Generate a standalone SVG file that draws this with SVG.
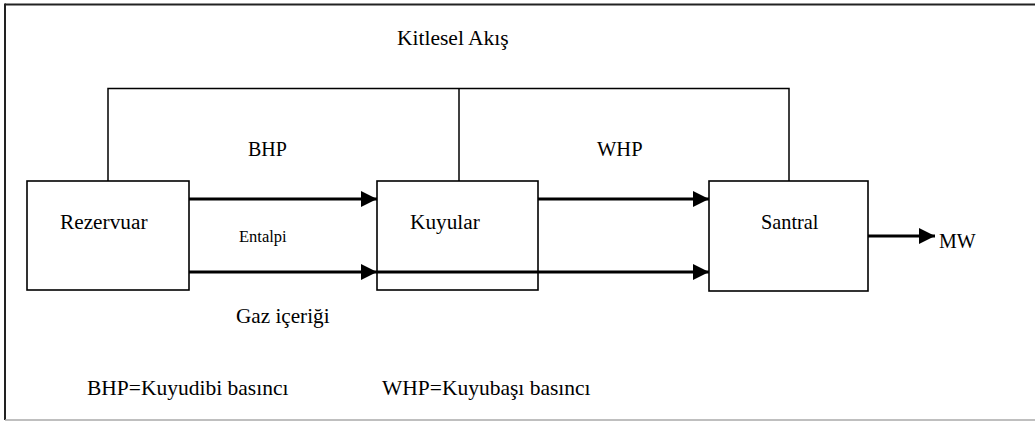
<svg xmlns="http://www.w3.org/2000/svg" width="1035" height="421" viewBox="0 0 1035 421">
<style>
.t{font-family:'Liberation Serif','Times New Roman',Times,serif;fill:#000}
.box{fill:#fff;stroke:#000;stroke-width:1.6}
.thin{fill:none;stroke:#000;stroke-width:1.5}
.arr{fill:none;stroke:#000;stroke-width:3}
</style>
<defs>
<marker id="ah" viewBox="0 0 16 16" refX="16" refY="8" markerWidth="16" markerHeight="16" markerUnits="userSpaceOnUse" orient="auto">
<path d="M0,0 L16,8 L0,16 Z" fill="#000"/>
</marker>
</defs>
<rect width="1035" height="421" fill="#fff"/>
<g id="frame">
<line x1="5" y1="4.5" x2="1035" y2="4.5" stroke="#222" stroke-width="2"/>
<line x1="5" y1="3.5" x2="5" y2="420" stroke="#222" stroke-width="2"/>
<line x1="5" y1="420" x2="1035" y2="420" stroke="#aaa" stroke-width="1.5"/>
</g>
<g id="connectors">
<polyline class="thin" points="108,181 108,88.5 789,88.5 789,181"/>
<line class="thin" x1="459" y1="88.5" x2="459" y2="181"/>
<line class="arr" x1="189" y1="199" x2="377" y2="199" marker-end="url(#ah)"/>
<line class="arr" x1="538" y1="199" x2="709" y2="199" marker-end="url(#ah)"/>
<line class="arr" x1="189" y1="272" x2="377" y2="272" marker-end="url(#ah)"/>
<line class="arr" x1="868" y1="236" x2="935" y2="236" marker-end="url(#ah)"/>
</g>
<g id="rezervuar">
<rect class="box" x="27" y="181" width="162" height="109"/>
<text class="t" x="60" y="229" font-size="21.3">Rezervuar</text>
</g>
<g id="kuyular">
<rect class="box" x="377" y="181" width="161" height="109"/>
<text class="t" x="410" y="229" font-size="21.3">Kuyular</text>
</g>
<g id="santral">
<rect class="box" x="709" y="181" width="159" height="110"/>
<text class="t" x="761" y="229" font-size="20.3">Santral</text>
</g>
<g id="connectors-through">
<line class="arr" x1="377" y1="272" x2="709" y2="272" marker-end="url(#ah)"/>
</g>
<g id="labels">
<text class="t" x="397" y="45" font-size="21.5">Kitlesel Akış</text>
<text class="t" x="248" y="156" font-size="20">BHP</text>
<text class="t" x="597" y="156" font-size="20.5">WHP</text>
<text class="t" x="239" y="242" font-size="16.5">Entalpi</text>
<text class="t" x="236" y="323" font-size="21.2">Gaz içeriği</text>
<text class="t" x="939" y="248" font-size="20">MW</text>
<text class="t" x="87" y="395" font-size="21.5">BHP=Kuyudibi basıncı</text>
<text class="t" x="382" y="395" font-size="21.5">WHP=Kuyubaşı basıncı</text>
</g>
</svg>
